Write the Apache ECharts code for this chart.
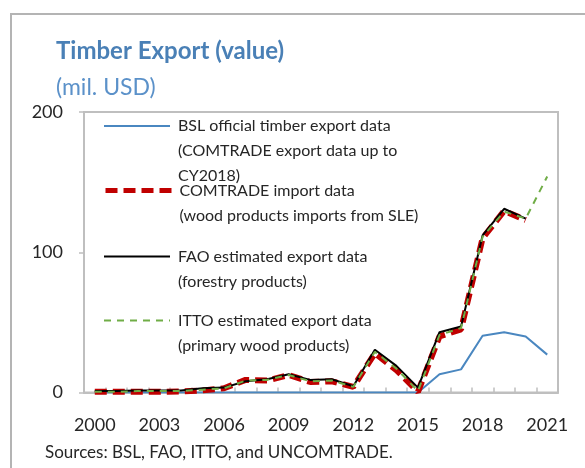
<!DOCTYPE html>
<html>
<head>
<meta charset="utf-8">
<script src="https://cdn.jsdelivr.net/npm/echarts@6/dist/echarts.min.js"></script>
<style>
  html, body { margin: 0; padding: 0; background: #ffffff; }
  #chart { width: 585px; height: 468px; }
</style>
</head>
<body>
<div id="chart"></div>
<script>
// Years on the category axis
var years = ['2000','2001','2002','2003','2004','2005','2006','2007','2008','2009','2010',
             '2011','2012','2013','2014','2015','2016','2017','2018','2019','2020','2021'];

// Timber export value, mil. USD
var bslOfficial = [0, 0, 0, 0, 0, 0, 0, 0, 0, 0, 0, 0, 0, 0, 0, 0, 13, 16.5, 40.5, 43, 40, 27];
var comtradeImport = [0.5, 0.5, 0.5, 0.5, 0.8, 1.5, 3, 9, 8.5, 12.5, 7.5, 8, 4, 28, 16, 0.5, 40, 45, 110, 129.5, 123, null];
var faoEstimate = [1, 1, 1.5, 1.5, 1.5, 3, 3.5, 8, 9.5, 13, 9, 9.5, 4.5, 30.5, 19, 3.5, 43, 47, 112, 131, 124, null];
var ittoEstimate = [0.5, 0.5, 1, 1, 1, 2, 3, 8.5, 9, 12.5, 8, 8.5, 4, 29, 17, 1, 41, 46, 111, 129, 124, 154];

// Value-axis ticks
var yTicks = { min: 0, max: 200, step: 100 };

// Series names (legend text, line-wrapped)
var names = [
  'BSL official timber export data\n(COMTRADE export data up to\nCY2018)',
  'COMTRADE import data\n(wood products imports from SLE)',
  'FAO estimated export data\n(forestry products)',
  'ITTO estimated export data\n(primary wood products)'
];

var FONT = 'Lato';
var TEXT = '#262626';
var GRAY = '#bfbfbf';
var LINE_H = 25;

// One legend block per series so each wrapped label hangs below its line icon.
// The top padding pushes the text block down so its first line sits level with the icon.
function legendBlock(name, iconCenterY, lines, lineStyle) {
  var padTop = (lines - 1) * LINE_H;
  var blockH = lines * LINE_H + padTop;
  var block = {
    data: [name],
    orient: 'vertical',
    left: 103,
    top: iconCenterY - blockH / 2,
    padding: 0,
    itemWidth: 66,
    itemHeight: 14,
    selectedMode: false,
    itemStyle: { opacity: 0 },
    textStyle: {
      fontFamily: FONT,
      fontSize: 16,
      color: TEXT,
      lineHeight: LINE_H,
      padding: [padTop, 0, 0, 3],
      rich: { t: {} }
    }
  };
  if (lineStyle) block.lineStyle = lineStyle;
  return block;
}

var chart = echarts.init(document.getElementById('chart'), null, { renderer: 'canvas' });

chart.setOption({
  backgroundColor: '#ffffff',
  animation: false,
  title: [
    {
      text: 'Timber Export (value)',
      subtext: '(mil. USD)',
      left: 56,
      top: 37,
      padding: 0,
      itemGap: 9,
      textStyle: { fontFamily: FONT, fontSize: 24, fontWeight: 'bold', color: '#4a80b6', lineHeight: 28 },
      subtextStyle: { fontFamily: FONT, fontSize: 23, color: '#5b91c9', lineHeight: 28 }
    },
    {
      text: 'Sources: BSL, FAO, ITTO, and UNCOMTRADE.',
      left: 45,
      top: 442,
      padding: 0,
      textStyle: { fontFamily: FONT, fontSize: 17, fontWeight: 'normal', color: TEXT, lineHeight: 22 }
    }
  ],
  graphic: [
    {
      type: 'rect',
      shape: { x: 11, y: 14, width: 700, height: 600 },
      style: { fill: 'none', stroke: '#b4b4b4', lineWidth: 2 },
      silent: true
    }
  ],
  legend: [
    legendBlock(names[0], 126, 3),
    legendBlock(names[1], 190.5, 2, { color: '#c00000', width: 5, type: [12, 6] }),
    legendBlock(names[2], 256.5, 2),
    legendBlock(names[3], 320.5, 2)
  ],
  grid: {
    left: 84,
    top: 112,
    width: 474,
    height: 280.5,
    show: true,
    borderColor: GRAY,
    borderWidth: 2,
    backgroundColor: 'transparent'
  },
  xAxis: {
    type: 'category',
    data: years,
    boundaryGap: true,
    axisLine: { lineStyle: { color: GRAY, width: 2 } },
    axisTick: { show: true, inside: true, length: 5, interval: 0, lineStyle: { color: GRAY, width: 1.5 } },
    axisLabel: { interval: 2, fontFamily: FONT, fontSize: 18, color: TEXT, margin: 24 },
    splitLine: { show: false }
  },
  yAxis: {
    type: 'value',
    min: yTicks.min,
    max: yTicks.max,
    interval: yTicks.step,
    axisLine: { show: true, lineStyle: { color: GRAY, width: 2 } },
    axisTick: { show: true, inside: false, length: 5, lineStyle: { color: GRAY, width: 1.5 } },
    axisLabel: { fontFamily: FONT, fontSize: 18, color: TEXT, margin: 21 },
    splitLine: { show: false }
  },
  series: [
    {
      name: names[0],
      type: 'line',
      data: bslOfficial,
      symbol: 'none',
      color: '#4a87c0',
      lineStyle: { color: '#4a87c0', width: 2 },
      z: 2
    },
    {
      name: names[1],
      type: 'line',
      data: comtradeImport,
      symbol: 'none',
      color: '#c00000',
      lineStyle: { color: '#c00000', width: 6, type: [12, 6] },
      z: 3
    },
    {
      name: names[2],
      type: 'line',
      data: faoEstimate,
      symbol: 'none',
      color: '#000000',
      lineStyle: { color: '#000000', width: 2 },
      z: 4
    },
    {
      name: names[3],
      type: 'line',
      data: ittoEstimate,
      symbol: 'none',
      color: '#70ad47',
      lineStyle: { color: '#70ad47', width: 2, type: [7, 6] },
      z: 5
    }
  ]
});
</script>
</body>
</html>
